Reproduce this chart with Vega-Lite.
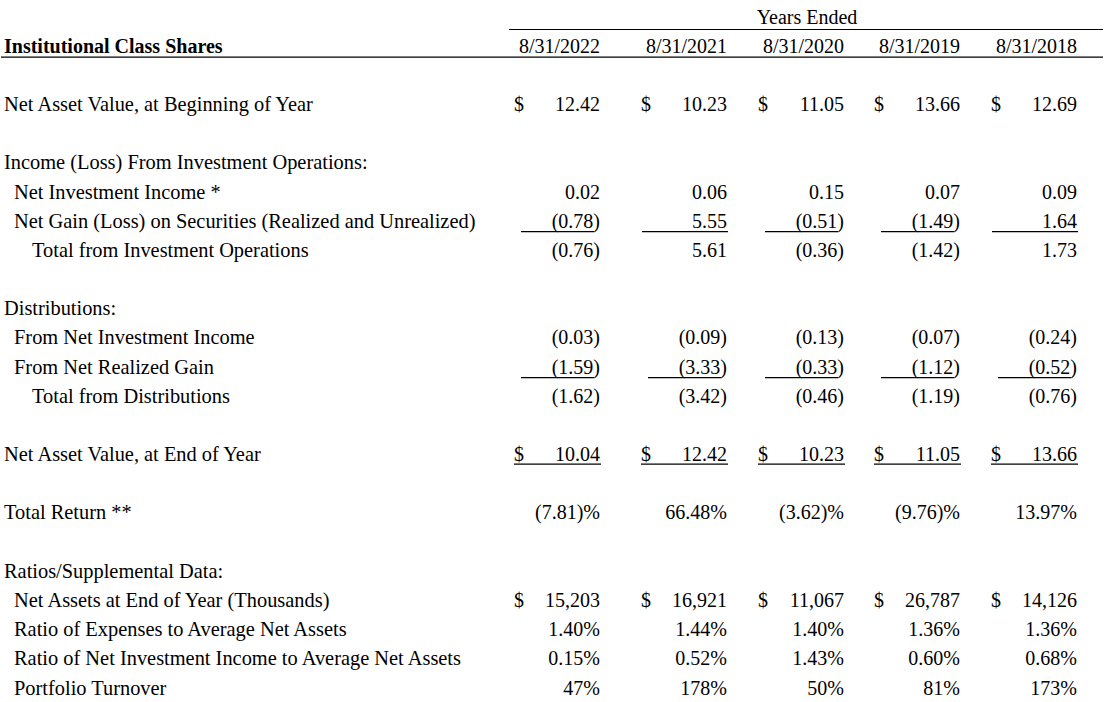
{
  "$schema": "https://vega.github.io/schema/vega-lite/v6.json",
  "width": 1104,
  "height": 702,
  "autosize": {"type": "fit", "contains": "padding"},
  "padding": 0,
  "background": "white",
  "config": {
    "view": {"stroke": null},
    "text": {"font": "Liberation Serif", "fontSize": 20, "color": "black"},
    "rule": {"color": "black", "strokeWidth": 1.2}
  },
  "datasets": {
    "lines": [
      {"line": 3, "level": 0, "item": "Net Asset Value, at Beginning of Year"},
      {"line": 5, "level": 0, "item": "Income (Loss) From Investment Operations:"},
      {"line": 6, "level": 1, "item": "Net Investment Income *"},
      {"line": 7, "level": 1, "item": "Net Gain (Loss) on Securities (Realized and Unrealized)"},
      {"line": 8, "level": 2, "item": "Total from Investment Operations"},
      {"line": 10, "level": 0, "item": "Distributions:"},
      {"line": 11, "level": 1, "item": "From Net Investment Income"},
      {"line": 12, "level": 1, "item": "From Net Realized Gain"},
      {"line": 13, "level": 2, "item": "Total from Distributions"},
      {"line": 15, "level": 0, "item": "Net Asset Value, at End of Year"},
      {"line": 17, "level": 0, "item": "Total Return **"},
      {"line": 19, "level": 0, "item": "Ratios/Supplemental Data:"},
      {"line": 20, "level": 1, "item": "Net Assets at End of Year (Thousands)"},
      {"line": 21, "level": 1, "item": "Ratio of Expenses to Average Net Assets"},
      {"line": 22, "level": 1, "item": "Ratio of Net Investment Income to Average Net Assets"},
      {"line": 23, "level": 1, "item": "Portfolio Turnover"}
    ],
    "periods": [
      {"line": 1, "fy": 2022, "period": "8/31/2022"},
      {"line": 1, "fy": 2021, "period": "8/31/2021"},
      {"line": 1, "fy": 2020, "period": "8/31/2020"},
      {"line": 1, "fy": 2019, "period": "8/31/2019"},
      {"line": 1, "fy": 2018, "period": "8/31/2018"}
    ],
    "cells": [
      {"item": "Net Asset Value, at Beginning of Year", "fy": 2022, "text": "12.42"},
      {"item": "Net Asset Value, at Beginning of Year", "fy": 2021, "text": "10.23"},
      {"item": "Net Asset Value, at Beginning of Year", "fy": 2020, "text": "11.05"},
      {"item": "Net Asset Value, at Beginning of Year", "fy": 2019, "text": "13.66"},
      {"item": "Net Asset Value, at Beginning of Year", "fy": 2018, "text": "12.69"},
      {"item": "Net Investment Income *", "fy": 2022, "text": "0.02"},
      {"item": "Net Investment Income *", "fy": 2021, "text": "0.06"},
      {"item": "Net Investment Income *", "fy": 2020, "text": "0.15"},
      {"item": "Net Investment Income *", "fy": 2019, "text": "0.07"},
      {"item": "Net Investment Income *", "fy": 2018, "text": "0.09"},
      {"item": "Net Gain (Loss) on Securities (Realized and Unrealized)", "fy": 2022, "text": "(0.78)"},
      {"item": "Net Gain (Loss) on Securities (Realized and Unrealized)", "fy": 2021, "text": "5.55"},
      {"item": "Net Gain (Loss) on Securities (Realized and Unrealized)", "fy": 2020, "text": "(0.51)"},
      {"item": "Net Gain (Loss) on Securities (Realized and Unrealized)", "fy": 2019, "text": "(1.49)"},
      {"item": "Net Gain (Loss) on Securities (Realized and Unrealized)", "fy": 2018, "text": "1.64"},
      {"item": "Total from Investment Operations", "fy": 2022, "text": "(0.76)"},
      {"item": "Total from Investment Operations", "fy": 2021, "text": "5.61"},
      {"item": "Total from Investment Operations", "fy": 2020, "text": "(0.36)"},
      {"item": "Total from Investment Operations", "fy": 2019, "text": "(1.42)"},
      {"item": "Total from Investment Operations", "fy": 2018, "text": "1.73"},
      {"item": "From Net Investment Income", "fy": 2022, "text": "(0.03)"},
      {"item": "From Net Investment Income", "fy": 2021, "text": "(0.09)"},
      {"item": "From Net Investment Income", "fy": 2020, "text": "(0.13)"},
      {"item": "From Net Investment Income", "fy": 2019, "text": "(0.07)"},
      {"item": "From Net Investment Income", "fy": 2018, "text": "(0.24)"},
      {"item": "From Net Realized Gain", "fy": 2022, "text": "(1.59)"},
      {"item": "From Net Realized Gain", "fy": 2021, "text": "(3.33)"},
      {"item": "From Net Realized Gain", "fy": 2020, "text": "(0.33)"},
      {"item": "From Net Realized Gain", "fy": 2019, "text": "(1.12)"},
      {"item": "From Net Realized Gain", "fy": 2018, "text": "(0.52)"},
      {"item": "Total from Distributions", "fy": 2022, "text": "(1.62)"},
      {"item": "Total from Distributions", "fy": 2021, "text": "(3.42)"},
      {"item": "Total from Distributions", "fy": 2020, "text": "(0.46)"},
      {"item": "Total from Distributions", "fy": 2019, "text": "(1.19)"},
      {"item": "Total from Distributions", "fy": 2018, "text": "(0.76)"},
      {"item": "Net Asset Value, at End of Year", "fy": 2022, "text": "10.04"},
      {"item": "Net Asset Value, at End of Year", "fy": 2021, "text": "12.42"},
      {"item": "Net Asset Value, at End of Year", "fy": 2020, "text": "10.23"},
      {"item": "Net Asset Value, at End of Year", "fy": 2019, "text": "11.05"},
      {"item": "Net Asset Value, at End of Year", "fy": 2018, "text": "13.66"},
      {"item": "Total Return **", "fy": 2022, "text": "(7.81)%"},
      {"item": "Total Return **", "fy": 2021, "text": "66.48%"},
      {"item": "Total Return **", "fy": 2020, "text": "(3.62)%"},
      {"item": "Total Return **", "fy": 2019, "text": "(9.76)%"},
      {"item": "Total Return **", "fy": 2018, "text": "13.97%"},
      {"item": "Net Assets at End of Year (Thousands)", "fy": 2022, "text": "15,203"},
      {"item": "Net Assets at End of Year (Thousands)", "fy": 2021, "text": "16,921"},
      {"item": "Net Assets at End of Year (Thousands)", "fy": 2020, "text": "11,067"},
      {"item": "Net Assets at End of Year (Thousands)", "fy": 2019, "text": "26,787"},
      {"item": "Net Assets at End of Year (Thousands)", "fy": 2018, "text": "14,126"},
      {"item": "Ratio of Expenses to Average Net Assets", "fy": 2022, "text": "1.40%"},
      {"item": "Ratio of Expenses to Average Net Assets", "fy": 2021, "text": "1.44%"},
      {"item": "Ratio of Expenses to Average Net Assets", "fy": 2020, "text": "1.40%"},
      {"item": "Ratio of Expenses to Average Net Assets", "fy": 2019, "text": "1.36%"},
      {"item": "Ratio of Expenses to Average Net Assets", "fy": 2018, "text": "1.36%"},
      {"item": "Ratio of Net Investment Income to Average Net Assets", "fy": 2022, "text": "0.15%"},
      {"item": "Ratio of Net Investment Income to Average Net Assets", "fy": 2021, "text": "0.52%"},
      {"item": "Ratio of Net Investment Income to Average Net Assets", "fy": 2020, "text": "1.43%"},
      {"item": "Ratio of Net Investment Income to Average Net Assets", "fy": 2019, "text": "0.60%"},
      {"item": "Ratio of Net Investment Income to Average Net Assets", "fy": 2018, "text": "0.68%"},
      {"item": "Portfolio Turnover", "fy": 2022, "text": "47%"},
      {"item": "Portfolio Turnover", "fy": 2021, "text": "178%"},
      {"item": "Portfolio Turnover", "fy": 2020, "text": "50%"},
      {"item": "Portfolio Turnover", "fy": 2019, "text": "81%"},
      {"item": "Portfolio Turnover", "fy": 2018, "text": "173%"}
    ]
  },
  "layer": [
    {
      "data": {"name": "lines"},
      "mark": {"type": "text", "align": "left", "baseline": "alphabetic", "dy": 6.5, "fontSize": 20.4},
      "encoding": {
        "x": {"field": "level", "type": "quantitative", "scale": {"domain": [0, 1, 2], "range": [3, 13, 31], "nice": false, "zero": false}, "axis": null},
        "y": {"field": "line", "type": "quantitative", "scale": {"domain": [0, 23], "range": [17, 688], "nice": false, "zero": false}, "axis": null},
        "text": {"field": "item"}
      }
    },
    {
      "data": {"values": [{"line": 1, "level": 0, "heading": "Institutional Class Shares"}]},
      "mark": {"type": "text", "align": "left", "baseline": "alphabetic", "dy": 6.5, "fontWeight": "bold"},
      "encoding": {
        "x": {"field": "level", "type": "quantitative", "scale": {"domain": [0, 1, 2], "range": [3, 13, 31], "nice": false, "zero": false}, "axis": null},
        "y": {"field": "line", "type": "quantitative", "axis": null},
        "text": {"field": "heading"}
      }
    },
    {
      "data": {"values": [{"line": 0, "fy": 2020, "header": "Years Ended"}]},
      "mark": {"type": "text", "align": "center", "baseline": "alphabetic", "dy": 6.5, "xOffset": -37},
      "encoding": {
        "x": {"field": "fy", "type": "quantitative", "scale": {"domain": [2018, 2019, 2020, 2021, 2022], "range": [1076, 959, 843, 726, 599], "nice": false, "zero": false}, "axis": null},
        "y": {"field": "line", "type": "quantitative", "axis": null},
        "text": {"field": "header"}
      }
    },
    {
      "data": {"name": "periods"},
      "mark": {"type": "text", "align": "right", "baseline": "alphabetic", "dy": 6.5},
      "encoding": {
        "x": {"field": "fy", "type": "quantitative", "scale": {"domain": [2018, 2019, 2020, 2021, 2022], "range": [1076, 959, 843, 726, 599], "nice": false, "zero": false}, "axis": null},
        "y": {"field": "line", "type": "quantitative", "axis": null},
        "text": {"field": "period"}
      }
    },
    {
      "data": {"name": "cells"},
      "transform": [{"lookup": "item", "from": {"data": {"name": "lines"}, "key": "item", "fields": ["line"]}}],
      "mark": {"type": "text", "align": "right", "baseline": "alphabetic", "dy": 6.5},
      "encoding": {
        "x": {"field": "fy", "type": "quantitative", "scale": {"domain": [2018, 2019, 2020, 2021, 2022], "range": [1076, 959, 843, 726, 599], "nice": false, "zero": false}, "axis": null},
        "y": {"field": "line", "type": "quantitative", "axis": null},
        "text": {"field": "text"}
      }
    },
    {
      "data": {"name": "cells"},
      "transform": [
        {"filter": {"field": "item", "oneOf": ["Net Asset Value, at Beginning of Year", "Net Asset Value, at End of Year", "Net Assets at End of Year (Thousands)"]}},
        {"lookup": "item", "from": {"data": {"name": "lines"}, "key": "item", "fields": ["line"]}}
      ],
      "mark": {"type": "text", "align": "left", "baseline": "alphabetic", "dy": 6.5, "xOffset": -86, "text": "$"},
      "encoding": {
        "x": {"field": "fy", "type": "quantitative", "scale": {"domain": [2018, 2019, 2020, 2021, 2022], "range": [1076, 959, 843, 726, 599], "nice": false, "zero": false}, "axis": null},
        "y": {"field": "line", "type": "quantitative", "axis": null}
      }
    },
    {
      "data": {"name": "cells"},
      "transform": [
        {"filter": {"field": "item", "oneOf": ["Net Gain (Loss) on Securities (Realized and Unrealized)", "From Net Realized Gain"]}},
        {"filter": "indexof(datum.text, '(') >= 0"},
        {"lookup": "item", "from": {"data": {"name": "lines"}, "key": "item", "fields": ["line"]}}
      ],
      "mark": {"type": "rule", "xOffset": -79, "x2Offset": -6, "yOffset": 10.5},
      "encoding": {
        "x": {"field": "fy", "type": "quantitative", "scale": {"domain": [2018, 2019, 2020, 2021, 2022], "range": [1076, 959, 843, 726, 599], "nice": false, "zero": false}, "axis": null},
        "x2": {"field": "fy"},
        "y": {"field": "line", "type": "quantitative", "axis": null}
      }
    },
    {
      "data": {"name": "cells"},
      "transform": [
        {"filter": {"field": "item", "oneOf": ["Net Gain (Loss) on Securities (Realized and Unrealized)", "From Net Realized Gain"]}},
        {"filter": "indexof(datum.text, '(') < 0"},
        {"lookup": "item", "from": {"data": {"name": "lines"}, "key": "item", "fields": ["line"]}}
      ],
      "mark": {"type": "rule", "xOffset": -85, "x2Offset": 1, "yOffset": 10.5},
      "encoding": {
        "x": {"field": "fy", "type": "quantitative", "scale": {"domain": [2018, 2019, 2020, 2021, 2022], "range": [1076, 959, 843, 726, 599], "nice": false, "zero": false}, "axis": null},
        "x2": {"field": "fy"},
        "y": {"field": "line", "type": "quantitative", "axis": null}
      }
    },
    {
      "data": {"name": "cells"},
      "transform": [
        {"filter": {"field": "item", "equal": "Net Asset Value, at End of Year"}},
        {"lookup": "item", "from": {"data": {"name": "lines"}, "key": "item", "fields": ["line"]}}
      ],
      "mark": {"type": "rule", "xOffset": -86, "x2Offset": 1, "yOffset": 9.5},
      "encoding": {
        "x": {"field": "fy", "type": "quantitative", "scale": {"domain": [2018, 2019, 2020, 2021, 2022], "range": [1076, 959, 843, 726, 599], "nice": false, "zero": false}, "axis": null},
        "x2": {"field": "fy"},
        "y": {"field": "line", "type": "quantitative", "axis": null}
      }
    },
    {
      "data": {"values": [{"line": 0, "fy": 2022}]},
      "mark": {"type": "rule", "xOffset": -91, "yOffset": 12.5},
      "encoding": {
        "x": {"field": "fy", "type": "quantitative", "scale": {"domain": [2018, 2019, 2020, 2021, 2022], "range": [1076, 959, 843, 726, 599], "nice": false, "zero": false}, "axis": null},
        "x2": {"value": "width"},
        "y": {"field": "line", "type": "quantitative", "axis": null}
      }
    },
    {
      "data": {"values": [{"line": 1}]},
      "mark": {"type": "rule", "yOffset": 11},
      "encoding": {
        "x": {"value": 0},
        "x2": {"value": "width"},
        "y": {"field": "line", "type": "quantitative", "axis": null}
      }
    }
  ],
  "resolve": {"scale": {"x": "independent"}}
}
